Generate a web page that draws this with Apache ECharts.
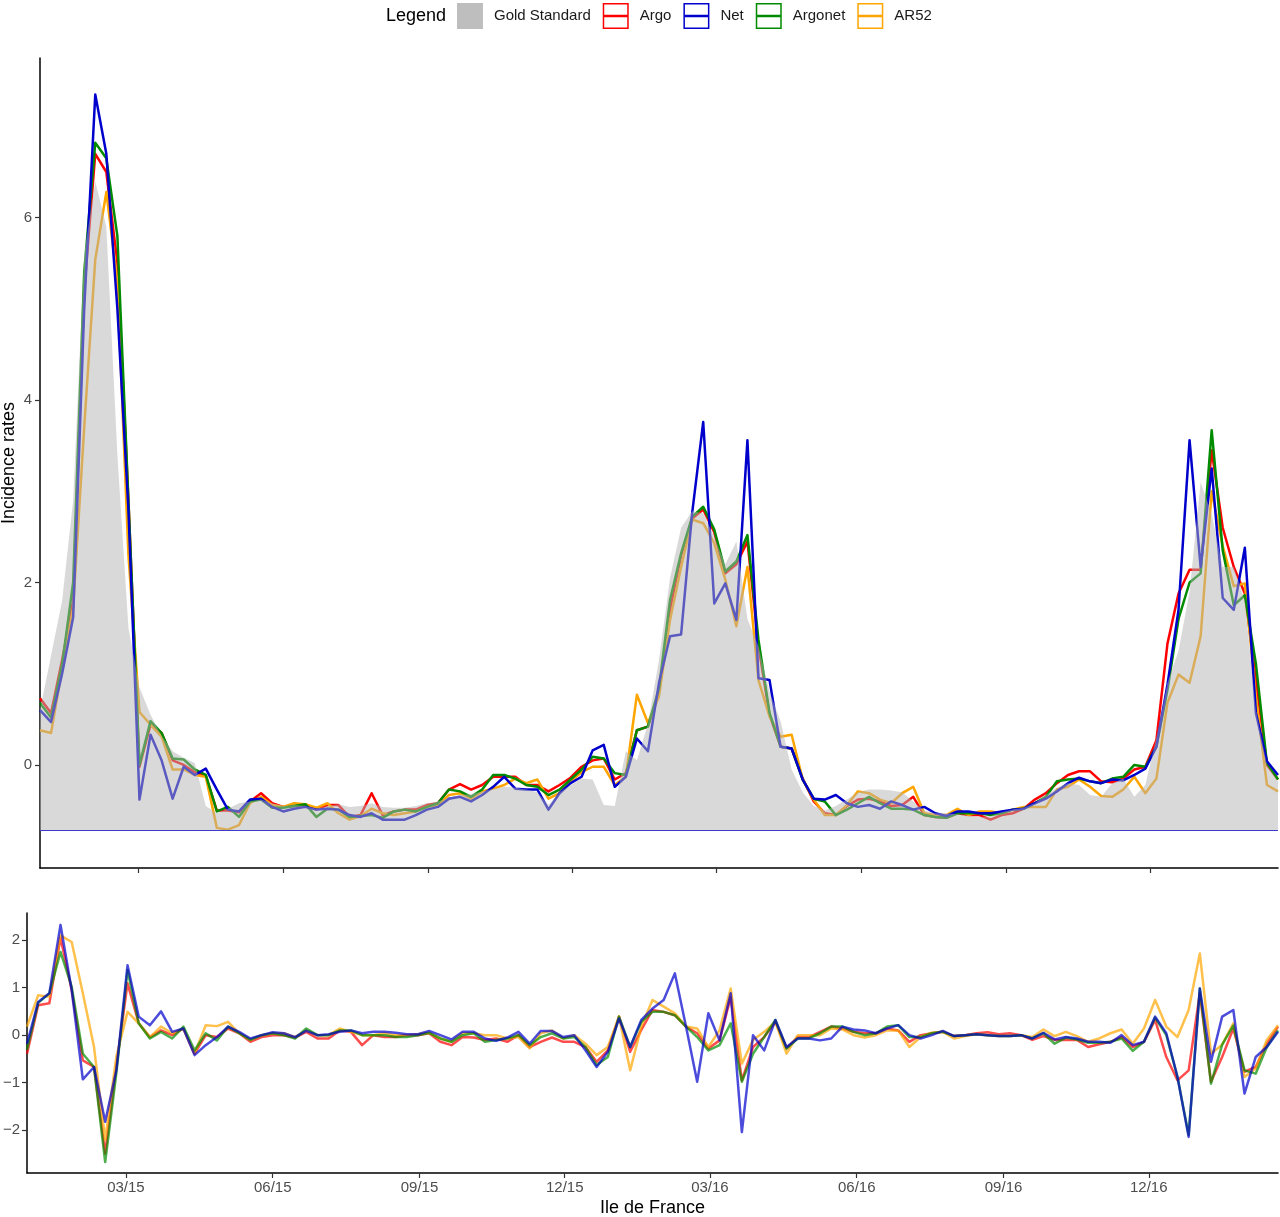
<!DOCTYPE html>
<html><head><meta charset="utf-8">
<script src="https://cdn.jsdelivr.net/npm/echarts@6/dist/echarts.min.js"></script>
<style>html,body{margin:0;padding:0;background:#fff}#c{width:1280px;height:1217px}</style>
</head><body><div id="c"></div>
<script>
// ---------------- data ----------------
const firstWeek = '2014-12-29';
const tickDates = ['2015-03-01','2015-06-01','2015-09-01','2015-12-01','2016-03-01','2016-06-01','2016-09-01','2016-12-01'];
const tickLabels = ['03/15','06/15','09/15','12/15','03/16','06/16','09/16','12/16'];
const topTicks = [0, 2, 4, 6];
const bottomTicks = [-2, -1, 0, 1, 2];
const goldBaseline = -0.725;

const goldStandard = [
 0.6,1.2,1.8,2.9,5.6,6.4,5.9,3.4,1.5,0.85,
 0.55,0.32,0.15,0.08,0.02,-0.45,-0.53,-0.48,-0.42,-0.4,
 -0.38,-0.42,-0.45,-0.44,-0.45,-0.48,-0.45,-0.43,-0.46,-0.45,
 -0.42,-0.46,-0.47,-0.47,-0.45,-0.42,-0.4,-0.36,-0.33,-0.32,
 -0.29,-0.26,-0.24,-0.25,-0.27,-0.3,-0.44,-0.3,-0.22,-0.15,
 -0.16,-0.44,-0.45,0.15,0.05,0.45,1.15,2.05,2.6,2.78,
 2.76,2.5,2.2,2.45,1.6,1.3,0.8,0.48,-0.05,-0.3,
 -0.45,-0.5,-0.45,-0.38,-0.3,-0.27,-0.27,-0.28,-0.3,-0.4,
 -0.5,-0.53,-0.53,-0.54,-0.56,-0.57,-0.56,-0.52,-0.49,-0.47,
 -0.42,-0.33,-0.25,-0.2,-0.22,-0.33,-0.35,-0.2,-0.15,-0.35,
 -0.22,0.3,0.9,1.25,1.9,3.1,2.75,2.17,2.17,1.8,
 0.6,0.0,-0.18];

const argo = [
 0.73,0.57,1.15,1.8,5.2,6.7,6.5,5.5,2.9,-0.02,
 0.44,0.35,0.05,0.0,-0.08,-0.12,-0.5,-0.5,-0.52,-0.4,
 -0.31,-0.42,-0.46,-0.45,-0.44,-0.49,-0.44,-0.44,-0.57,-0.55,
 -0.31,-0.55,-0.51,-0.49,-0.49,-0.44,-0.42,-0.27,-0.21,-0.27,
 -0.22,-0.13,-0.13,-0.13,-0.22,-0.22,-0.29,-0.22,-0.14,-0.02,
 0.05,0.07,-0.16,-0.09,0.38,0.42,0.8,1.7,2.3,2.7,
 2.8,2.55,2.1,2.2,2.45,1.3,0.55,0.2,0.18,-0.15,
 -0.4,-0.53,-0.55,-0.45,-0.38,-0.37,-0.4,-0.45,-0.44,-0.35,
 -0.55,-0.57,-0.58,-0.53,-0.55,-0.55,-0.6,-0.55,-0.53,-0.48,
 -0.38,-0.31,-0.2,-0.11,-0.07,-0.07,-0.18,-0.19,-0.15,-0.05,
 -0.02,0.27,1.33,1.88,2.14,2.14,3.45,2.6,2.17,1.88,
 0.93,0.0,-0.16];

const net = [
 0.6,0.47,1.0,1.62,5.0,7.35,6.7,5.0,2.8,-0.38,
 0.33,0.05,-0.37,-0.02,-0.11,-0.04,-0.27,-0.49,-0.51,-0.38,
 -0.37,-0.46,-0.51,-0.48,-0.46,-0.49,-0.48,-0.49,-0.55,-0.57,
 -0.53,-0.6,-0.6,-0.6,-0.55,-0.49,-0.46,-0.37,-0.35,-0.4,
 -0.33,-0.24,-0.13,-0.26,-0.27,-0.27,-0.49,-0.31,-0.2,-0.13,
 0.16,0.22,-0.24,-0.13,0.29,0.15,0.9,1.41,1.43,2.76,
 3.76,1.77,1.99,1.59,3.56,0.95,0.93,0.2,0.18,-0.16,
 -0.37,-0.38,-0.33,-0.42,-0.46,-0.44,-0.48,-0.4,-0.44,-0.49,
 -0.46,-0.53,-0.56,-0.51,-0.51,-0.53,-0.53,-0.51,-0.49,-0.48,
 -0.42,-0.37,-0.29,-0.2,-0.14,-0.18,-0.2,-0.16,-0.17,-0.11,
 -0.04,0.2,0.88,1.7,3.56,2.17,3.25,1.83,1.7,2.38,
 0.57,0.04,-0.11];

const argonet = [
 0.68,0.52,1.1,2.0,5.4,6.82,6.65,5.8,2.9,0.0,
 0.48,0.35,0.07,0.06,-0.05,-0.11,-0.51,-0.46,-0.57,-0.4,
 -0.38,-0.47,-0.47,-0.45,-0.43,-0.57,-0.48,-0.49,-0.57,-0.56,
 -0.55,-0.58,-0.51,-0.49,-0.51,-0.46,-0.42,-0.27,-0.29,-0.35,
 -0.27,-0.11,-0.11,-0.15,-0.22,-0.24,-0.33,-0.27,-0.16,-0.05,
 0.09,0.07,-0.09,-0.11,0.38,0.42,0.84,1.81,2.32,2.72,
 2.83,2.58,2.12,2.23,2.52,1.37,0.57,0.2,0.18,-0.16,
 -0.37,-0.4,-0.55,-0.49,-0.42,-0.35,-0.42,-0.48,-0.48,-0.49,
 -0.55,-0.57,-0.58,-0.53,-0.53,-0.53,-0.55,-0.53,-0.49,-0.48,
 -0.42,-0.35,-0.18,-0.16,-0.15,-0.18,-0.2,-0.15,-0.13,0.0,
 -0.02,0.2,0.82,1.6,2.0,2.1,3.67,2.35,1.75,1.86,
 1.11,0.02,-0.16];

const ar52 = [
 0.38,0.35,1.05,1.72,3.7,5.54,6.28,5.3,2.3,0.58,
 0.44,0.31,-0.05,-0.05,-0.11,-0.13,-0.69,-0.71,-0.66,-0.42,
 -0.35,-0.44,-0.46,-0.42,-0.43,-0.47,-0.42,-0.53,-0.6,-0.56,
 -0.48,-0.53,-0.55,-0.53,-0.51,-0.46,-0.44,-0.33,-0.31,-0.37,
 -0.29,-0.26,-0.22,-0.15,-0.2,-0.16,-0.37,-0.31,-0.18,-0.08,
 -0.02,-0.02,-0.22,-0.13,0.77,0.46,0.75,1.59,2.17,2.69,
 2.65,2.43,2.03,1.52,2.17,0.93,0.53,0.31,0.33,-0.16,
 -0.38,-0.55,-0.55,-0.44,-0.29,-0.31,-0.38,-0.42,-0.31,-0.24,
 -0.53,-0.55,-0.55,-0.48,-0.55,-0.51,-0.51,-0.53,-0.49,-0.46,
 -0.46,-0.46,-0.27,-0.24,-0.16,-0.24,-0.34,-0.35,-0.27,-0.13,
 -0.31,-0.15,0.68,0.99,0.9,1.41,3.0,2.4,1.96,1.99,
 0.75,-0.22,-0.29];

const argoErr = [
 -0.39,0.63,0.67,2.05,0.95,-0.53,-0.67,-2.49,-0.65,1.09,
 0.25,-0.04,0.1,0.0,0.14,-0.39,0.0,-0.04,0.14,0.04,
 -0.14,-0.04,0.0,0.0,-0.05,0.07,-0.07,-0.07,0.1,0.07,
 -0.21,0.0,-0.04,-0.04,0.0,0.0,0.04,-0.14,-0.21,-0.04,
 -0.05,-0.1,-0.07,-0.14,0.0,-0.25,-0.14,-0.05,-0.14,-0.14,
 -0.25,-0.56,-0.32,0.39,-0.35,0.11,0.53,0.49,0.42,0.18,
 0.04,-0.28,-0.11,0.8,-0.95,-0.25,-0.04,0.28,-0.28,-0.04,
 -0.04,0.07,0.18,0.14,0.07,0.04,0.04,0.14,0.1,-0.14,
 0.0,0.04,0.07,-0.02,0.0,0.04,0.06,0.02,0.04,0.0,
 -0.1,-0.02,-0.1,-0.1,-0.1,-0.25,-0.19,-0.14,-0.04,-0.25,
 -0.14,0.32,-0.46,-0.95,-0.74,0.88,-0.98,-0.46,0.14,-0.77,
 -0.67,-0.18,0.18];

const netErr = [
 -0.18,0.7,0.88,2.32,0.95,-0.93,-0.67,-1.82,-0.74,1.47,
 0.39,0.21,0.5,0.07,0.14,-0.42,-0.21,-0.04,0.18,0.07,
 -0.07,0.0,0.06,0.04,-0.04,0.09,0.0,0.02,0.07,0.1,
 0.04,0.07,0.07,0.05,0.02,0.02,0.09,0.0,-0.09,0.07,
 0.07,-0.07,-0.12,-0.05,0.07,-0.18,0.09,0.09,-0.04,0.0,
 -0.32,-0.67,-0.35,0.35,-0.25,0.32,0.56,0.74,1.3,0.18,
 -0.98,0.46,-0.11,0.88,-2.04,0.0,-0.32,0.32,-0.25,-0.07,
 -0.07,-0.11,-0.07,0.18,0.12,0.1,0.04,0.14,0.21,0.0,
 -0.07,0.0,0.09,-0.02,0.0,0.02,0.0,-0.02,-0.02,0.0,
 -0.07,0.05,-0.09,-0.04,-0.07,-0.14,-0.14,-0.16,0.0,-0.21,
 -0.14,0.39,0.04,-0.88,-2.14,0.98,-0.56,0.39,0.53,-1.23,
 -0.46,-0.25,0.07];

const argonetErr = [
 -0.3,0.68,0.88,1.75,1.02,-0.39,-0.67,-2.67,-0.8,1.37,
 0.25,-0.07,0.07,-0.07,0.18,-0.32,0.04,-0.11,0.18,0.04,
 -0.1,0.0,0.04,0.0,-0.07,0.14,0.0,0.0,0.1,0.1,
 0.0,0.0,0.0,-0.04,-0.04,0.0,0.05,-0.07,-0.14,0.0,
 0.04,-0.14,-0.1,-0.07,0.0,-0.21,-0.04,0.04,-0.07,-0.04,
 -0.25,-0.63,-0.46,0.39,-0.25,0.28,0.49,0.49,0.42,0.18,
 -0.04,-0.32,-0.21,0.25,-0.98,-0.39,-0.04,0.32,-0.28,-0.07,
 -0.07,0.04,0.18,0.18,0.07,0.0,0.04,0.18,0.21,-0.04,
 -0.04,0.04,0.07,-0.02,0.0,0.02,0.0,-0.02,-0.02,0.0,
 -0.07,0.04,-0.18,-0.05,-0.09,-0.16,-0.16,-0.14,-0.07,-0.33,
 -0.14,0.37,0.0,-0.88,-2.1,0.98,-1.02,-0.2,0.2,-0.74,
 -0.81,-0.25,0.1];

const ar52Err = [
 0.18,0.84,0.81,2.1,1.96,0.88,-0.25,-2.2,-0.45,0.49,
 0.25,-0.04,0.18,0.04,0.14,-0.39,0.21,0.19,0.28,0.04,
 -0.1,0.0,0.04,0.04,-0.04,0.1,0.0,0.0,0.14,0.07,
 0.0,0.0,0.04,0.0,0.0,0.02,0.05,-0.07,-0.14,0.04,
 0.04,0.0,0.0,-0.07,-0.04,-0.28,0.04,0.1,-0.07,0.0,
 -0.18,-0.42,-0.25,0.39,-0.74,0.18,0.74,0.6,0.46,0.18,
 0.14,-0.25,0.1,0.98,-0.6,-0.1,0.07,0.28,-0.39,0.0,
 0.0,0.0,0.14,0.12,0.0,-0.05,0.0,0.1,0.1,-0.25,
 -0.04,0.05,0.07,-0.07,-0.02,0.02,0.0,-0.02,-0.02,0.0,
 -0.04,0.12,-0.02,0.07,-0.02,-0.14,-0.07,0.04,0.12,-0.18,
 0.14,0.74,0.18,-0.04,0.53,1.72,-0.39,-0.2,0.25,-0.88,
 -0.7,-0.1,0.21];

// ---------------- build ----------------
const DAY = 86400000;
const t0 = Date.parse(firstWeek);
const weeks = goldStandard.map((_, i) => t0 + i * 7 * DAY);
const tMin = weeks[0], tMax = weeks[weeks.length - 1];
const tickTimes = tickDates.map(d => Date.parse(d));
const pair = arr => arr.map((v, i) => [weeks[i], v]);

const colors = {Argo: '#ff0000', Net: '#0000cd', Argonet: '#008b00', AR52: '#ffa500'};
const FONT = 'Liberation Sans, Arial, Helvetica, sans-serif';
const keyPath = 'path://M0,0H26V26H0Z M1.5,1.5V24.5H24.5V1.5Z M1.5,11.75H24.5V14.25H1.5Z';

const minusFmt = v => (v < 0 ? '\u2212' + Math.abs(v) : String(v));
const xFmt = v => {
  let best = 0, bd = Infinity;
  tickTimes.forEach((t, i) => { const d = Math.abs(t - v); if (d < bd) { bd = d; best = i; } });
  return tickLabels[best];
};

const axisLineStyle = {color: '#000', width: 1.5};

function lineSeries(name, data, xi, opacity, z) {
  return {
    name, type: 'line', xAxisIndex: xi, yAxisIndex: xi, data: pair(data),
    showSymbol: false, symbol: 'none', z,
    lineStyle: {color: colors[name], width: 2.5, opacity, join: 'round'},
    itemStyle: {color: colors[name]},
    emphasis: {disabled: true}, silent: true
  };
}

const option = {
  animation: false,
  backgroundColor: '#fff',
  textStyle: {fontFamily: FONT},
  title: {text: 'Legend', left: 386, top: 7, padding: 0,
    textStyle: {fontSize: 18, fontWeight: 'normal', color: '#000', fontFamily: FONT}},
  legend: {
    left: 457, top: 3, padding: 0, itemWidth: 26, itemHeight: 26, itemGap: 12, selectedMode: false,
    textStyle: {fontSize: 15, color: '#1a1a1a', fontFamily: FONT, padding: [0, 0, 0, 6]},
    data: [
      {name: 'Gold Standard', icon: 'rect', itemStyle: {color: '#bebebe', borderWidth: 0}},
      {name: 'Argo', icon: keyPath, itemStyle: {color: colors.Argo, borderWidth: 0}},
      {name: 'Net', icon: keyPath, itemStyle: {color: colors.Net, borderWidth: 0}},
      {name: 'Argonet', icon: keyPath, itemStyle: {color: colors.Argonet, borderWidth: 0}},
      {name: 'AR52', icon: keyPath, itemStyle: {color: colors.AR52, borderWidth: 0}}
    ]
  },
  grid: [
    {left: 40, right: 2, top: 58, height: 810, outerBoundsMode: 'none'},
    {left: 27, right: 2, top: 913, height: 260, outerBoundsMode: 'none'}
  ],
  xAxis: [
    {type: 'value', gridIndex: 0, min: tMin, max: tMax, splitLine: {show: false},
     axisLine: {show: true, onZero: false, lineStyle: axisLineStyle},
     axisTick: {show: true, customValues: tickTimes, length: 5, lineStyle: {color: '#333', width: 1.2}},
     axisLabel: {show: false}},
    {type: 'value', gridIndex: 1, min: tMin, max: tMax, splitLine: {show: false},
     axisLine: {show: true, onZero: false, lineStyle: axisLineStyle},
     axisTick: {show: true, customValues: tickTimes, length: 5, lineStyle: {color: '#333', width: 1.2}},
     axisLabel: {show: true, customValues: tickTimes, formatter: xFmt, fontSize: 15, color: '#4d4d4d', margin: 7, fontFamily: FONT},
     name: 'Ile de France', nameLocation: 'middle', nameGap: 26, nameMoveOverlap: false,
     nameTextStyle: {fontSize: 18, color: '#000', fontFamily: FONT}}
  ],
  yAxis: [
    {type: 'value', gridIndex: 0, min: -1.13, max: 7.75, splitLine: {show: false},
     axisLine: {show: true, onZero: false, lineStyle: axisLineStyle},
     axisTick: {show: true, customValues: topTicks, length: 5, lineStyle: {color: '#333', width: 1.2}},
     axisLabel: {show: true, customValues: topTicks, formatter: minusFmt, fontSize: 15, color: '#4d4d4d', margin: 8, fontFamily: FONT},
     name: 'Incidence rates', nameLocation: 'middle', nameGap: 22, nameRotate: 90, nameMoveOverlap: false,
     nameTextStyle: {fontSize: 18, color: '#000', fontFamily: FONT}},
    {type: 'value', gridIndex: 1, min: -2.9, max: 2.57, splitLine: {show: false},
     axisLine: {show: true, onZero: false, lineStyle: axisLineStyle},
     axisTick: {show: true, customValues: bottomTicks, length: 5, lineStyle: {color: '#333', width: 1.2}},
     axisLabel: {show: true, customValues: bottomTicks, formatter: minusFmt, fontSize: 15, color: '#4d4d4d', margin: 7, fontFamily: FONT}}
  ],
  series: [
    lineSeries('Argo', argo, 0, 1, 2),
    lineSeries('AR52', ar52, 0, 1, 2),
    lineSeries('Argonet', argonet, 0, 1, 2),
    lineSeries('Net', net, 0, 1, 2),
    {
      name: 'Gold Standard', type: 'line', xAxisIndex: 0, yAxisIndex: 0, data: pair(goldStandard),
      showSymbol: false, symbol: 'none', z: 3, silent: true,
      itemStyle: {color: '#bebebe'},
      lineStyle: {width: 0, opacity: 0},
      areaStyle: {color: 'rgba(179,179,179,0.5)', origin: goldBaseline, opacity: 1},
      markLine: {silent: true, symbol: ['none', 'none'], label: {show: false}, animation: false,
        lineStyle: {color: '#3c3cc8', width: 1.2, type: 'solid'},
        data: [{yAxis: goldBaseline}]}
    },
    lineSeries('Argo', argoErr, 1, 0.7, 2),
    lineSeries('AR52', ar52Err, 1, 0.7, 2),
    lineSeries('Argonet', argonetErr, 1, 0.7, 2),
    lineSeries('Net', netErr, 1, 0.7, 2)
  ]
};

const chart = echarts.init(document.getElementById('c'), null, {renderer: 'canvas'});
chart.setOption(option);
</script>
</body></html>
